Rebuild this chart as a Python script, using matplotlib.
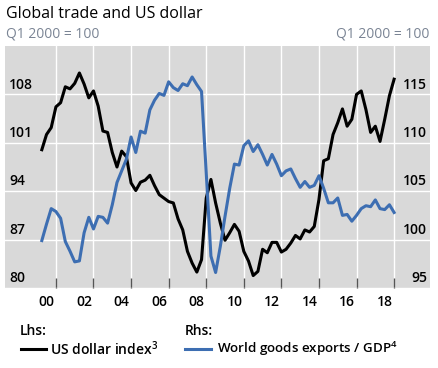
import matplotlib
matplotlib.use("Agg")
import matplotlib.pyplot as plt
import numpy as np

plt.rcParams['font.family'] = ['Open Sans', 'DejaVu Sans']

# quarterly, Q1 2000 to Q4 2018
usd_index = [100.0, 102.2, 103.2, 106.2, 106.8, 109.1, 108.8, 109.6, 111.1, 109.5,
             107.5, 108.5, 106.3, 102.7, 102.5, 99.6, 97.5, 99.8, 99.0, 95.2,
             94.1, 95.3, 95.6, 96.3, 94.8, 93.5, 93.0, 92.5, 92.3, 90.0,
             88.4, 85.3, 83.6, 82.3, 84.1, 93.0, 95.7, 92.3, 89.4, 86.9,
             88.0, 89.2, 88.2, 85.3, 83.9, 81.8, 82.4, 85.6, 85.1, 86.6,
             86.6, 85.2, 85.6, 86.5, 87.6, 87.1, 88.4, 88.1, 88.9, 92.8,
             98.4, 98.7, 102.2, 103.9, 105.9, 103.4, 104.4, 108.0, 108.5, 105.8,
             102.5, 103.4, 101.2, 104.4, 107.8, 110.2]
exports_gdp = [99.9, 101.6, 103.2, 102.9, 102.2, 99.8, 98.8, 97.7, 97.8, 100.7,
               102.3, 101.1, 102.4, 102.3, 101.7, 103.6, 105.9, 107.1, 108.3, 110.6,
               109.0, 111.2, 111.0, 113.4, 114.4, 115.1, 114.9, 116.3, 115.7, 115.4,
               116.1, 115.9, 116.8, 116.0, 115.3, 106.9, 98.3, 96.6, 99.3, 102.4,
               105.3, 107.8, 107.7, 109.7, 110.2, 109.1, 109.8, 108.8, 107.7, 108.8,
               107.8, 106.6, 107.1, 107.3, 106.3, 105.4, 106.0, 105.4, 105.6, 106.6,
               105.3, 103.8, 103.8, 104.3, 102.5, 102.6, 101.9, 102.5, 103.2, 103.5,
               103.4, 104.1, 103.2, 103.1, 103.6, 102.8]
left_ticks = [80, 87, 94, 101, 108]
right_ticks = [95, 100, 105, 110, 115]
year_labels = ["00", "02", "04", "06", "08", "10", "12", "14", "16", "18"]

t = 2000.25 + np.arange(len(usd_index)) / 4.0

bg = "#d9d9d9"
blue = "#3d6eb2"

fig = plt.figure(figsize=(4.39, 3.68), dpi=100)
ax = fig.add_axes([5 / 439, 80 / 368, 425 / 439, 242 / 368])
ax.set_facecolor(bg)
ax2 = ax.twinx()

ax.set_xlim(1998.29, 2020.91)
ax.set_ylim(80, 115)
ax2.set_ylim(95, 120)

ax.plot(t, usd_index, color="black", lw=2.2, zorder=3)
ax2.plot(t, exports_gdp, color=blue, lw=2.2, zorder=3)

for a in (ax, ax2):
    for s in a.spines.values():
        s.set_visible(False)

# grid
ax.set_yticks(left_ticks)
ax.set_yticklabels([])
ax.tick_params(axis="y", length=0)
ax2.set_yticks(right_ticks)
ax2.set_yticklabels([])
ax2.tick_params(axis="y", length=0)
ax.grid(True, color="white", lw=1.0)
ax.set_axisbelow(True)

ax.set_xticks(np.arange(2001, 2020, 2))
ax.set_xticklabels([])
ax.tick_params(axis="x", which="major", direction="in", length=7, width=1, color="#555555")
ax.set_xticks(np.arange(2000.5, 2019, 2), minor=True)
ax.set_xticklabels(year_labels, minor=True, fontsize=10, fontweight="semibold")
ax.tick_params(axis="x", which="minor", length=0, pad=5)

# y tick labels inside the plot
for v in left_ticks:
    ax.annotate(str(v), xy=(0, v), xycoords=("axes fraction", "data"),
                xytext=(3, 2), textcoords="offset points", ha="left", va="bottom",
                fontsize=10, fontweight="semibold")
for v in right_ticks:
    ax2.annotate(str(v), xy=(1, v), xycoords=("axes fraction", "data"),
                 xytext=(-2, 2), textcoords="offset points", ha="right", va="bottom",
                 fontsize=10, fontweight="semibold")

fig.text(6 / 439, 1 - 14 / 368, "Global trade and US dollar", fontsize=11.5, va="center")
fig.text(6 / 439, 1 - 34 / 368, "Q1 2000 = 100", fontsize=10, color="#7a8494", va="center")
fig.text(429 / 439, 1 - 34 / 368, "Q1 2000 = 100", fontsize=10, color="#7a8494",
         va="center", ha="right")

# legend
fig.text(20 / 439, 1 - 331 / 368, "Lhs:", fontsize=10, fontweight="semibold", va="center")
fig.text(185 / 439, 1 - 331 / 368, "Rhs:", fontsize=10, fontweight="semibold", va="center")
y_leg = 1 - 349 / 368
fig.add_artist(plt.Line2D([21 / 439, 46 / 439], [y_leg, y_leg], color="black", lw=2.2))
fig.add_artist(plt.Line2D([185 / 439, 211 / 439], [y_leg, y_leg], color=blue, lw=2.2))
fig.text(50 / 439, y_leg, r"US dollar index$^{\mathregular{3}}$", fontsize=10,
         fontweight="semibold", va="center")
fig.text(217 / 439, y_leg, r"World goods exports / GDP$^{\mathregular{4}}$", fontsize=9.6,
         fontweight="semibold", va="center")

fig.savefig("out.png", dpi=100)
